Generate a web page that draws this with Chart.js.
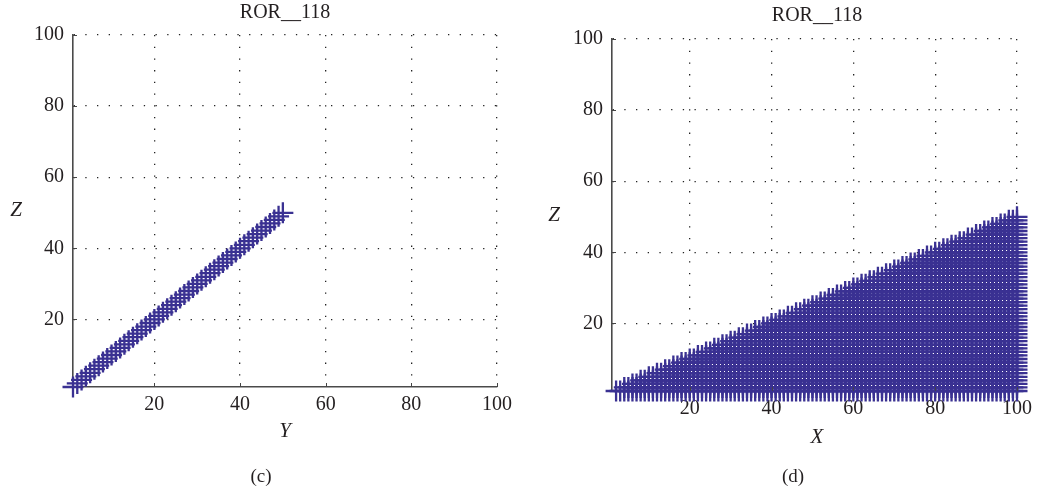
<!DOCTYPE html>
<html>
<head>
<meta charset="utf-8">
<script src="https://cdn.jsdelivr.net/npm/chart.js@4/dist/chart.umd.min.js"></script>
<style>
  html, body { margin: 0; padding: 0; background: #fff; }
  #wrap { position: relative; width: 1038px; height: 491px; }
  canvas { position: absolute; top: 0; }
</style>
</head>
<body>
<div id="wrap">
  <canvas id="chartC" width="519" height="491" style="left:0"></canvas>
  <canvas id="chartD" width="519" height="491" style="left:519px"></canvas>
</div>
<script>
// tick labels shared by both panels
const tickValues = [20, 40, 60, 80, 100];

// panel (c): Y against Z
const panelCY = [1, 2, 3, 4, 5, 6, 7, 8, 9, 10, 11, 12, 13, 14, 15, 16, 17, 18, 19, 20,
  21, 22, 23, 24, 25, 26, 27, 28, 29, 30, 31, 32, 33, 34, 35, 36, 37, 38, 39, 40,
  41, 42, 43, 44, 45, 46, 47, 48, 49, 50];
const panelCZ = [1, 2, 3, 4, 5, 6, 7, 8, 9, 10, 11, 12, 13, 14, 15, 16, 17, 18, 19, 20,
  21, 22, 23, 24, 25, 26, 27, 28, 29, 30, 31, 32, 33, 34, 35, 36, 37, 38, 39, 40,
  41, 42, 43, 44, 45, 46, 47, 48, 49, 50];

// panel (d): each X column holds Z = 1 .. top
const panelDX = [2, 3, 4, 5, 6, 7, 8, 9, 10, 11, 12, 13, 14, 15, 16, 17, 18, 19, 20,
  21, 22, 23, 24, 25, 26, 27, 28, 29, 30, 31, 32, 33, 34, 35, 36, 37, 38, 39, 40,
  41, 42, 43, 44, 45, 46, 47, 48, 49, 50, 51, 52, 53, 54, 55, 56, 57, 58, 59, 60,
  61, 62, 63, 64, 65, 66, 67, 68, 69, 70, 71, 72, 73, 74, 75, 76, 77, 78, 79, 80,
  81, 82, 83, 84, 85, 86, 87, 88, 89, 90, 91, 92, 93, 94, 95, 96, 97, 98, 99, 100];
const panelDTop = [1, 1, 2, 2, 3, 3, 4, 4, 5, 5, 6, 6, 7, 7, 8, 8, 9, 9, 10,
  10, 11, 11, 12, 12, 13, 13, 14, 14, 15, 15, 16, 16, 17, 17, 18, 18, 19, 19, 20,
  20, 21, 21, 22, 22, 23, 23, 24, 24, 25, 25, 26, 26, 27, 27, 28, 28, 29, 29, 30,
  30, 31, 31, 32, 32, 33, 33, 34, 34, 35, 35, 36, 36, 37, 37, 38, 38, 39, 39, 40,
  40, 41, 41, 42, 42, 43, 43, 44, 44, 45, 45, 46, 46, 47, 47, 48, 48, 49, 49, 50];

const markColor = '#3a3192';
const serif = '"Liberation Serif", "DejaVu Serif", serif';
const textColor = '#231f20';

const pointsC = panelCY.map((y, i) => ({ x: y, y: panelCZ[i] }));
const pointsD = [];
panelDX.forEach((x, i) => {
  for (let z = 1; z <= panelDTop[i]; z++) pointsD.push({ x: x, y: z });
});

// titles, axis letters, captions and small inward ticks
const textPlugin = {
  id: 'panelText',
  afterDraw(chart, args, opts) {
    const ctx = chart.ctx;
    const { x, y } = chart.scales;
    ctx.save();
    // inward tick marks
    ctx.strokeStyle = '#444';
    ctx.lineWidth = 1;
    ctx.beginPath();
    tickValues.forEach(v => {
      const px = Math.round(x.getPixelForValue(v)) + 0.5;
      ctx.moveTo(px, chart.chartArea.bottom);
      ctx.lineTo(px, chart.chartArea.bottom - 4);
      const py = Math.round(y.getPixelForValue(v)) + 0.5;
      ctx.moveTo(chart.chartArea.left, py);
      ctx.lineTo(chart.chartArea.left + 4, py);
    });
    ctx.stroke();

    ctx.fillStyle = textColor;
    ctx.textAlign = 'center';
    ctx.textBaseline = 'middle';
    ctx.font = '20px ' + serif;
    ctx.fillText(opts.title, opts.titleX, opts.titleY);
    ctx.font = 'italic 21px ' + serif;
    ctx.fillText('Z', opts.zX, opts.zY);
    ctx.fillText(opts.axis, opts.axisX, opts.axisY);
    ctx.font = '19px ' + serif;
    ctx.fillText(opts.caption, opts.capX, opts.capY);
    ctx.restore();
  }
};

function makeScale(size, horizontal) {
  return {
    type: 'linear',
    min: 1,
    max: 100,
    afterBuildTicks: s => { s.ticks = tickValues.map(v => ({ value: v })); },
    afterFit: s => { if (horizontal) s.height = size; else s.width = size; },
    grid: { drawTicks: false, color: '#222', lineWidth: 1.3 },
    border: { display: true, color: '#4a4a4a', width: 1.6, dash: [1.3, 10.4] },
    ticks: {
      padding: horizontal ? 6 : 9,
      color: textColor,
      font: { family: serif, size: 20 },
      maxRotation: 0
    }
  };
}

function makeChart(id, points, box, text) {
  new Chart(document.getElementById(id), {
    type: 'scatter',
    data: {
      datasets: [{
        data: points,
        pointStyle: 'cross',
        pointRadius: 10.5,
        pointHoverRadius: 10.5,
        borderColor: markColor,
        backgroundColor: markColor,
        borderWidth: 2.3,
        clip: false
      }]
    },
    options: {
      responsive: false,
      animation: false,
      events: [],
      layout: { padding: { left: 0, top: box.top, right: box.right, bottom: 0 } },
      scales: {
        x: makeScale(box.xHeight, true),
        y: makeScale(box.yWidth, false)
      },
      plugins: {
        legend: { display: false },
        tooltip: { enabled: false },
        panelText: text
      }
    },
    plugins: [textPlugin]
  });
}

makeChart('chartC', pointsC,
  { top: 35, right: 22, xHeight: 104, yWidth: 73 },
  { title: 'ROR__118', titleX: 285, titleY: 13, zX: 16, zY: 210,
    axis: 'Y', axisX: 285, axisY: 431, caption: '(c)', capX: 261, capY: 477 });

makeChart('chartD', pointsD,
  { top: 39, right: 17, xHeight: 100, yWidth: 93 },
  { title: 'ROR__118', titleX: 298, titleY: 16, zX: 35, zY: 215,
    axis: 'X', axisX: 298, axisY: 437, caption: '(d)', capX: 274, capY: 477 });
</script>
</body>
</html>
